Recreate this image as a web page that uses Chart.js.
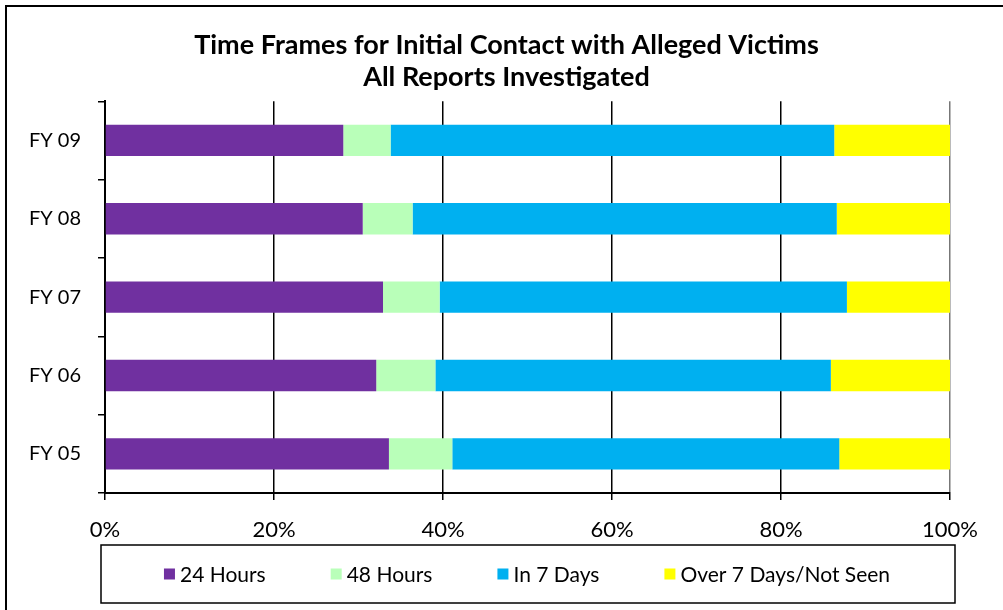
<!DOCTYPE html>
<html>
<head>
<meta charset="utf-8">
<script src="https://cdn.jsdelivr.net/npm/chart.js@4.4.0/dist/chart.umd.min.js"></script>
<style>
  html, body { margin: 0; padding: 0; background: #fff; }
  #wrap { position: absolute; left: 0; top: 0; width: 1003px; height: 610px; }
</style>
</head>
<body>
<div id="wrap"><canvas id="graph" width="1003" height="610"></canvas></div>
<script>
// categories, top to bottom
const years = ['FY 09', 'FY 08', 'FY 07', 'FY 06', 'FY 05'];

// share of contacts (%)
const hours24 = [28.2, 30.5, 32.9, 32.1, 33.6];
const hours48 = [5.6, 5.9, 6.7, 7.0, 7.5];
const in7Days = [52.5, 50.2, 48.2, 46.8, 45.8];
const over7Days = [13.7, 13.4, 12.2, 14.1, 13.1];

const seriesNames = ['24 Hours', '48 Hours', 'In 7 Days', 'Over 7 Days/Not Seen'];
const seriesColors = ['#7030A0', '#B9FFB9', '#00B0F0', '#FFFF00'];

const FONT = 'Lato, "Open Sans", sans-serif';

// frame around the whole chart, title centred on the canvas
const framePlugin = {
    id: 'frames',
    afterLayout(chart) {
        const t = chart.titleBlock;
        if (t) { t.left = 0; t.right = chart.width + 10; }
    },
    afterDraw(chart) {
        const ctx = chart.ctx;
        ctx.save();
        ctx.strokeStyle = '#000';
        ctx.lineWidth = 2;
        ctx.beginPath();
        ctx.moveTo(6, 610);
        ctx.lineTo(6, 6);
        ctx.lineTo(1003, 6);
        ctx.stroke();
        ctx.restore();
    }
};

// boxed legend below the x axis (items spaced like the original)
const boxLegend = {
    id: 'boxLegend',
    afterDraw(chart) {
        const ctx = chart.ctx;
        const area = chart.chartArea;
        const xAxis = chart.scales.x;
        const top = xAxis.bottom + 3;
        const left = area.left - 4;
        const w = 854, h = 58;
        ctx.save();
        ctx.strokeStyle = '#000';
        ctx.lineWidth = 1.5;
        ctx.strokeRect(left, top, w, h);

        ctx.font = '21px ' + FONT;
        ctx.textBaseline = 'middle';
        ctx.fillStyle = '#000';
        const sq = 11, gapText = 5, gapItem = 65;
        const items = chart.data.datasets.map(d => ({
            text: d.label, color: d.backgroundColor, tw: ctx.measureText(d.label).width
        }));
        let total = 0;
        items.forEach((it, i) => { total += sq + gapText + it.tw + (i ? gapItem : 0); });
        let x = left + (w - total) / 2 - 1;
        const cy = top + h / 2;
        items.forEach(it => {
            ctx.fillStyle = it.color;
            ctx.fillRect(x, cy - sq / 2, sq, sq);
            ctx.fillStyle = '#000';
            ctx.fillText(it.text, x + sq + gapText, cy + 1);
            x += sq + gapText + it.tw + gapItem;
        });
        ctx.restore();
    }
};

const graph = document.getElementById('graph').getContext('2d');
let myChart = new Chart(graph, {
    type: 'bar',
    data: {
        labels: years,
        datasets: [hours24, hours48, in7Days, over7Days].map((vals, i) => ({
            label: seriesNames[i],
            data: vals,
            backgroundColor: seriesColors[i],
            borderWidth: 0,
            barPercentage: 0.4,
            categoryPercentage: 1.0
        }))
    },
    options: {
        indexAxis: 'y',
        responsive: false,
        animation: false,
        layout: {
            padding: { left: 20, right: 53, top: 20, bottom: 68 }
        },
        scales: {
            x: {
                stacked: true,
                min: 0,
                max: 100,
                ticks: {
                    stepSize: 20,
                    color: '#000',
                    font: { family: FONT, size: 22 },
                    padding: 17,
                    callback: v => v + '%'
                },
                grid: {
                    color: c => (c.tick && c.tick.value === 100) ? '#777' : '#000',
                    lineWidth: 1.5,
                    tickLength: 7,
                    tickColor: '#000'
                },
                border: { color: '#000', width: 2 },
                afterFit: s => { s.height = 49; }
            },
            y: {
                stacked: true,
                ticks: {
                    color: '#000',
                    font: { family: FONT, size: 20 },
                    padding: 17
                },
                grid: {
                    offset: true,
                    drawOnChartArea: false,
                    tickLength: 7,
                    tickColor: '#000',
                    lineWidth: 1.5
                },
                border: { color: '#000', width: 2 },
                afterFit: s => { s.width = 85; }
            }
        },
        plugins: {
            title: {
                display: true,
                text: ['Time Frames for Initial Contact with Alleged Victims', 'All Reports Investigated'],
                color: '#000',
                font: { family: FONT, size: 27, weight: 'bold', lineHeight: 1.19 },
                padding: { top: 9, bottom: 8 }
            },
            legend: { display: false },
            tooltip: { enabled: false }
        }
    },
    plugins: [framePlugin, boxLegend]
});
</script>
</body>
</html>
